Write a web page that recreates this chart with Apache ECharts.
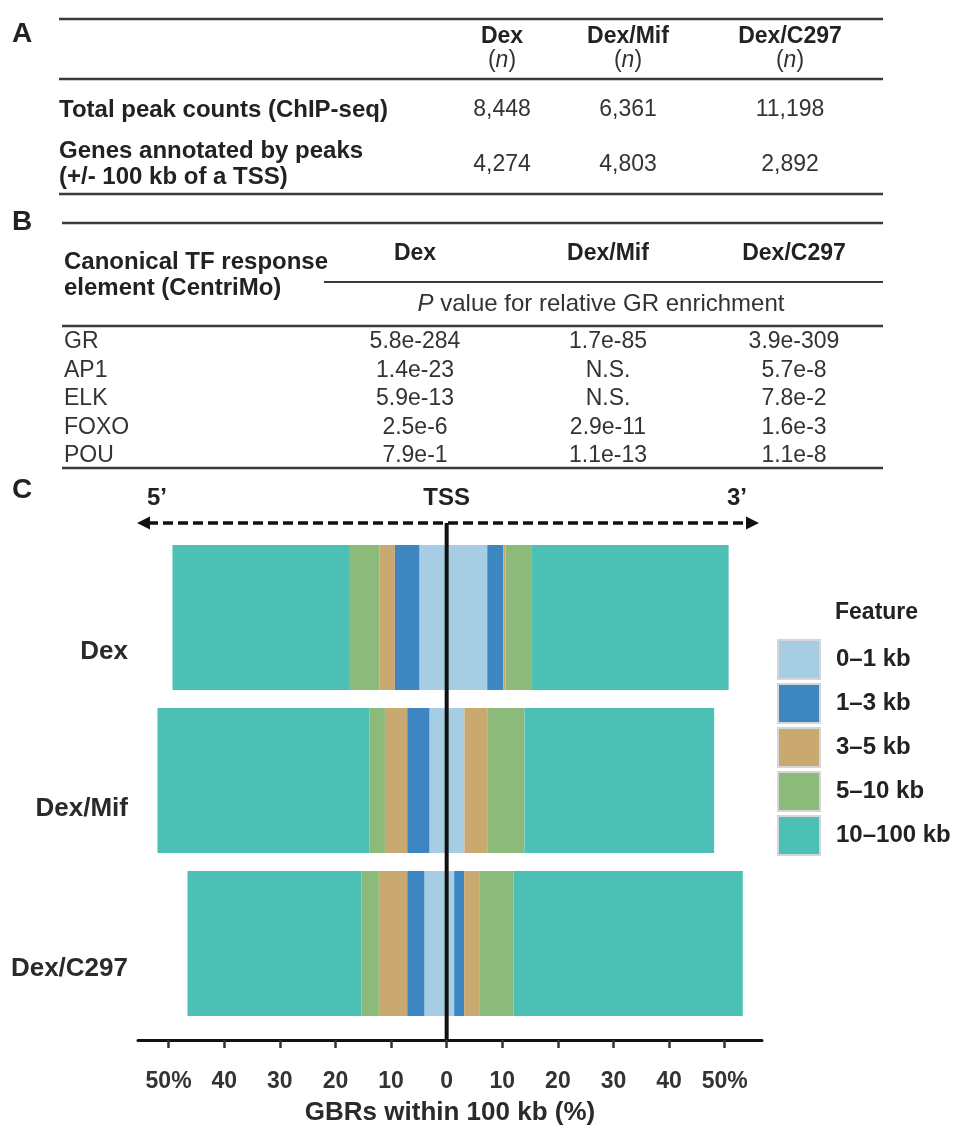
<!DOCTYPE html>
<html><head><meta charset="utf-8">
<script src="https://cdn.jsdelivr.net/npm/echarts@6/dist/echarts.min.js"></script>
<style>html,body{margin:0;padding:0;background:#fff}#chart{width:954px;height:1133px}</style>
</head><body><div id="chart"></div>
<script>
// ---- Panel A data ----
const conditions = ['Dex', 'Dex/Mif', 'Dex/C297'];
const totalPeakCounts = ['8,448', '6,361', '11,198'];
const genesAnnotated = ['4,274', '4,803', '2,892'];
// ---- Panel B data ----
const motifs = ['GR', 'AP1', 'ELK', 'FOXO', 'POU'];
const pDex = ['5.8e-284', '1.4e-23', '5.9e-13', '2.5e-6', '7.9e-1'];
const pDexMif = ['1.7e-85', 'N.S.', 'N.S.', '2.9e-11', '1.1e-13'];
const pDexC297 = ['3.9e-309', '5.7e-8', '7.8e-2', '1.6e-3', '1.1e-8'];
// ---- Panel C data (% of GBRs, per condition: Dex, Dex/Mif, Dex/C297) ----
const categories = ['Dex', 'Dex/Mif', 'Dex/C297'];
const features = ['0\u20131 kb', '1\u20133 kb', '3\u20135 kb', '5\u201310 kb', '10\u2013100 kb'];
const upstream_0_1 = [4.9, 3.1, 4.0];
const upstream_1_3 = [4.4, 4.0, 3.1];
const upstream_3_5 = [2.8, 4.0, 5.1];
const upstream_5_10 = [5.3, 2.8, 3.1];
const upstream_10_100 = [31.9, 38.1, 31.3];
const downstream_0_1 = [7.3, 3.2, 1.35];
const downstream_1_3 = [2.9, 0, 1.8];
const downstream_3_5 = [0.4, 4.1, 2.7];
const downstream_5_10 = [4.6, 6.7, 6.2];
const downstream_10_100 = [35.5, 34.1, 41.2];
const xTickValues = [-50, -40, -30, -20, -10, 0, 10, 20, 30, 40, 50];

const FONT = '"Liberation Sans", Arial, Helvetica, sans-serif';
const colors = ['#a6cde3', '#3e86c1', '#c9a96f', '#8bba7b', '#4dc0b5'];
const upstream = [upstream_0_1, upstream_1_3, upstream_3_5, upstream_5_10, upstream_10_100];
const downstream = [downstream_0_1, downstream_1_3, downstream_3_5, downstream_5_10, downstream_10_100];

const chart = echarts.init(document.getElementById('chart'), null, {renderer: 'canvas'});

const series = [];
features.forEach((f, i) => {
  const base = {name: f, type: 'bar', stack: 'gbr', barWidth: 145, silent: true,
    itemStyle: {color: colors[i]}, emphasis: {disabled: true}};
  series.push(Object.assign({}, base, {data: upstream[i].map(v => -v)}));
  series.push(Object.assign({}, base, {data: downstream[i].slice()}));
});

const labelShift = [68, 56, 50];
const rich = {};
labelShift.forEach((p, i) => {
  rich['c' + i] = {fontSize: 26, fontWeight: 'bold', color: '#2a2a2a', fontFamily: FONT, padding: [p, 0, 0, 0]};
});

chart.setOption({
  animation: false,
  backgroundColor: '#fff',
  grid: {left: 138, width: 624, top: 536, height: 489, containLabel: false},
  xAxis: {
    type: 'value', min: -55.5, max: 56.7, offset: 15,
    axisLine: {show: true, lineStyle: {color: '#111', width: 3}},
    axisTick: {show: true, customValues: xTickValues, length: 8, lineStyle: {color: '#333', width: 2.5}},
    axisLabel: {customValues: xTickValues, margin: 30, fontSize: 23, fontWeight: 'bold', color: '#333', fontFamily: FONT,
      formatter: v => (Math.abs(v) === 50 ? '50%' : String(Math.abs(v)))},
    splitLine: {show: false},
    name: 'GBRs within 100 kb (%)', nameLocation: 'middle', nameGap: 60,
    nameTextStyle: {fontSize: 26, fontWeight: 'bold', color: '#2a2a2a', fontFamily: FONT}
  },
  yAxis: {
    type: 'category', data: categories, inverse: true,
    axisLine: {show: false}, axisTick: {show: false}, splitLine: {show: false},
    axisLabel: {margin: 10, formatter: (v, i) => '{c' + i + '|' + v + '}', rich: rich}
  },
  legend: {
    data: features, orient: 'vertical', left: 777, top: 639, padding: 0,
    itemWidth: 42, itemHeight: 39, itemGap: 3, icon: 'rect', selectedMode: false,
    itemStyle: {borderColor: '#d6d6d6', borderWidth: 2},
    textStyle: {fontSize: 24, fontWeight: 'bold', color: '#222', fontFamily: FONT, padding: [0, 0, 0, 11]}
  },
  series: series
});

// ---------- graphic helpers ----------
function txt(text, x, y, opt) {
  opt = opt || {};
  return {type: 'text', silent: true, z: 100, style: Object.assign({
    text: text, x: x, y: y, fontSize: 23, fontWeight: 'normal', fontFamily: FONT, fill: '#333',
    align: 'left', verticalAlign: 'middle', textAlign: 'left', textVerticalAlign: 'middle'
  }, opt)};
}
function rule(x1, y, x2, w) {
  return {type: 'line', silent: true, z: 100, shape: {x1: x1, y1: y, x2: x2, y2: y}, style: {stroke: '#3a3a3a', lineWidth: w || 2}};
}
const italicRich = {i: {fontStyle: 'italic', fontSize: 23, fontFamily: FONT, fill: '#333'}};
const italicRich24 = {i: {fontStyle: 'italic', fontSize: 24, fontFamily: FONT, fill: '#333'}};
const center = (t, x, y, o) => txt(t, x, y, Object.assign({align: 'center', textAlign: 'center'}, o || {}));
const bold = {fontWeight: 'bold', fill: '#222'};
const boldLabel = {fontWeight: 'bold', fill: '#222', fontSize: 24};

const g = [];
// Panel letters
g.push(txt('A', 12, 34, {fontSize: 28, fontWeight: 'bold', fill: '#222'}));
g.push(txt('B', 12, 222, {fontSize: 28, fontWeight: 'bold', fill: '#222'}));
g.push(txt('C', 12, 490, {fontSize: 28, fontWeight: 'bold', fill: '#222'}));

// Panel A
const colA = [502, 628, 790];
g.push(rule(59, 19, 883, 2.5));
g.push(rule(59, 79, 883, 2.5));
g.push(rule(59, 194, 883, 2.5));
conditions.forEach((c, i) => {
  g.push(center(c, colA[i], 37, bold));
  g.push(center('({i|n})', colA[i], 61, {rich: italicRich, fill: '#333'}));
  g.push(center(totalPeakCounts[i], colA[i], 110));
  g.push(center(genesAnnotated[i], colA[i], 165));
});
g.push(txt('Total peak counts (ChIP-seq)', 59, 110, boldLabel));
g.push(txt('Genes annotated by peaks', 59, 151, boldLabel));
g.push(txt('(+/- 100 kb of a TSS)', 59, 177, boldLabel));

// Panel B
const colB = [415, 608, 794];
g.push(rule(62, 223, 883, 2.5));
g.push(rule(324, 282, 883, 2));
g.push(rule(62, 326, 883, 2.5));
g.push(rule(62, 468, 883, 2.5));
g.push(txt('Canonical TF response', 64, 262, boldLabel));
g.push(txt('element (CentriMo)', 64, 288, boldLabel));
conditions.forEach((c, i) => g.push(center(c, colB[i], 254, bold)));
g.push(center('{i|P} value for relative GR enrichment', 601, 304, {rich: italicRich24, fontSize: 24}));
const rowY = [342, 371, 399, 428, 456];
const pCols = [pDex, pDexMif, pDexC297];
motifs.forEach((m, r) => {
  g.push(txt(m, 64, rowY[r]));
  pCols.forEach((col, c) => g.push(center(col[r], colB[c], rowY[r])));
});

// Panel C header: 5' — TSS — 3'
const x0 = chart.convertToPixel({xAxisIndex: 0}, 0);
g.push(txt('5\u2019', 147, 498, {fontSize: 24, fontWeight: 'bold', fill: '#222'}));
g.push(center('TSS', x0, 498, {fontSize: 24, fontWeight: 'bold', fill: '#222'}));
g.push(txt('3\u2019', 727, 498, {fontSize: 24, fontWeight: 'bold', fill: '#222'}));
g.push({type: 'line', silent: true, z: 100, shape: {x1: 148, y1: 523, x2: 748, y2: 523},
  style: {stroke: '#111', lineWidth: 3.5, lineDash: [10, 5]}});
g.push({type: 'polygon', silent: true, z: 100, shape: {points: [[137, 523], [150, 516.5], [150, 529.5]]}, style: {fill: '#111'}});
g.push({type: 'polygon', silent: true, z: 100, shape: {points: [[759, 523], [746, 516.5], [746, 529.5]]}, style: {fill: '#111'}});
// TSS vertical line
g.push({type: 'line', silent: true, z: 100, shape: {x1: x0, y1: 523, x2: x0, y2: 1040},
  style: {stroke: '#111', lineWidth: 4}});
// Legend title
g.push(txt('Feature', 835, 613, {fontSize: 23, fontWeight: 'bold', fill: '#222'}));

chart.setOption({graphic: {elements: g}});
</script>
</body></html>
